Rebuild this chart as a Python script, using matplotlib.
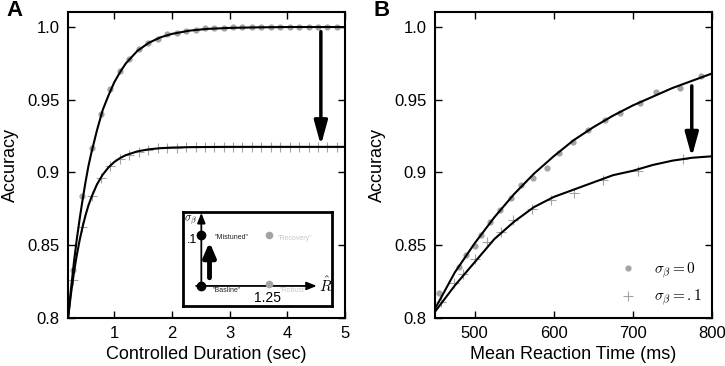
import matplotlib
matplotlib.use('Agg')
import matplotlib.pyplot as plt

plt.rcParams['font.family'] = ['Liberation Sans', 'DejaVu Sans']
plt.rcParams['mathtext.fontset'] = 'cm'

# panel A: controlled duration (sec)
dur_x = [0.28, 0.44, 0.61, 0.77, 0.93, 1.10, 1.26, 1.42, 1.59, 1.75, 1.92, 2.08,
         2.24, 2.41, 2.57, 2.73, 2.90, 3.06, 3.22, 3.39, 3.55, 3.71, 3.88, 4.04,
         4.20, 4.37, 4.53, 4.69, 4.86]
dur_acc0 = [0.833, 0.884, 0.917, 0.940, 0.957, 0.970, 0.978, 0.985, 0.989, 0.992,
            0.995, 0.996, 0.997, 0.998, 0.999, 0.999, 0.9995, 1.0, 1.0, 1.0, 1.0,
            1.0, 1.0, 1.0, 1.0, 1.0, 1.0, 1.0, 1.0]
dur_acc1 = [0.826, 0.862, 0.884, 0.896, 0.904, 0.909, 0.912, 0.914, 0.9155, 0.9165,
            0.917, 0.917, 0.9175, 0.9175, 0.9175, 0.9175, 0.9175, 0.9175, 0.9175,
            0.9175, 0.9175, 0.9175, 0.9175, 0.9175, 0.9175, 0.9175, 0.9175, 0.9175, 0.9175]
fitA_x = [0.2, 0.25, 0.3, 0.35, 0.4, 0.45, 0.5, 0.55, 0.6, 0.7, 0.8, 0.9, 1.0, 1.1,
          1.2, 1.4, 1.6, 1.8, 2.0, 2.3, 2.6, 3.0, 3.5, 4.0, 5.0]
fitA_0 = [0.800, 0.820, 0.838, 0.854, 0.868, 0.881, 0.893, 0.904, 0.913, 0.929,
          0.943, 0.953, 0.962, 0.969, 0.975, 0.9836, 0.9892, 0.9929, 0.9953, 0.9975,
          0.9987, 0.9994, 0.9998, 1.0, 1.0]
fitA_1 = [0.800, 0.8166, 0.831, 0.843, 0.8534, 0.8624, 0.8702, 0.8770, 0.8825, 0.8917,
          0.8984, 0.9034, 0.9071, 0.9098, 0.9118, 0.9144, 0.9158, 0.9166, 0.917, 0.9173,
          0.9174, 0.9175, 0.9175, 0.9175, 0.9175]

# panel B: mean reaction time (ms)
rt_x0 = [455, 480, 489, 501, 508, 520, 532, 546, 559, 574, 592, 607, 624, 643,
         665, 684, 709, 729, 759, 786]
rt_acc0 = [0.817, 0.835, 0.843, 0.849, 0.857, 0.866, 0.874, 0.882, 0.891, 0.896,
           0.903, 0.913, 0.921, 0.929, 0.936, 0.941, 0.948, 0.955, 0.958, 0.966]
rt_x1 = [457, 474, 485, 500, 516, 533, 548, 572, 596, 626, 662, 706, 763]
rt_acc1 = [0.811, 0.824, 0.830, 0.840, 0.852, 0.859, 0.867, 0.875, 0.881, 0.886,
           0.895, 0.901, 0.909]
fitB_x = [450, 475, 500, 525, 550, 575, 600, 625, 650, 675, 700, 725, 750, 775, 800]
fitB_0 = [0.806, 0.831, 0.851, 0.869, 0.885, 0.899, 0.911, 0.922, 0.931, 0.939,
          0.946, 0.952, 0.958, 0.963, 0.968]
fitB_1 = [0.804, 0.822, 0.838, 0.854, 0.866, 0.876, 0.883, 0.888, 0.893, 0.898,
          0.901, 0.905, 0.908, 0.910, 0.911]

yticks = [0.8, 0.85, 0.9, 0.95, 1.0]
ylabels = ['0.8', '0.85', '0.9', '0.95', '1.0']
gray = '#a4a4a4'

fig = plt.figure(figsize=(7.25, 3.66), dpi=100)
axA = fig.add_axes([0.094, 0.1325, 0.382, 0.8345])
axB = fig.add_axes([0.600, 0.1325, 0.382, 0.8345])


def style(ax):
    for s in ax.spines.values():
        s.set_linewidth(1.5)
    ax.tick_params(direction='in', length=5, width=1, top=True, right=True,
                   labelsize=12, pad=6)
    ax.set_yticks(yticks)
    ax.set_yticklabels(ylabels)
    ax.set_ylim(0.8, 1.0103)
    ax.set_ylabel('Accuracy', fontsize=13, labelpad=6)


arrow_kw = dict(arrowstyle='-|>,head_length=0.8,head_width=0.22', lw=2.5,
                color='k', mutation_scale=18, shrinkA=0, shrinkB=0)

# ---- A
axA.plot(fitA_x, fitA_0, color='k', lw=1.5, zorder=3)
axA.plot(fitA_x, fitA_1, color='k', lw=1.5, zorder=3)
axA.plot(dur_x, dur_acc0, 'o', color=gray, ms=4.5, mec='none', zorder=2)
axA.plot(dur_x, dur_acc1, '+', color=gray, ms=7, mew=0.8, zorder=2)
axA.set_xlim(0.2, 5)
axA.set_xticks([1, 2, 3, 4, 5])
style(axA)
axA.set_xlabel('Controlled Duration (sec)', fontsize=13)
axA.annotate('', xy=(4.58, 0.9185), xytext=(4.58, 0.9968), arrowprops=arrow_kw)
fig.text(0.009, 0.955, 'A', fontsize=16, fontweight='bold')

# inset
ins = fig.add_axes([0.252, 0.164, 0.2055, 0.257])
ins.set_xlim(0, 1)
ins.set_ylim(0, 1)
ins.set_xticks([])
ins.set_yticks([])
for s in ins.spines.values():
    s.set_linewidth(2)
thin = dict(arrowstyle='-|>,head_length=0.5,head_width=0.2', lw=1.3, color='k',
            mutation_scale=12, shrinkA=0, shrinkB=0)
ins.annotate('', xy=(0.125, 0.99), xytext=(0.125, 0.21), arrowprops=thin)
ins.annotate('', xy=(0.90, 0.213), xytext=(0.09, 0.213), arrowprops=thin)
ins.annotate('', xy=(0.18, 0.68), xytext=(0.18, 0.30),
             arrowprops=dict(arrowstyle='-|>,head_length=0.7,head_width=0.3', lw=3.5,
                             color='k', mutation_scale=12, shrinkA=0, shrinkB=0))
ins.plot([0.125, 0.125], [0.213, 0.755], 'o', color='k', ms=6, zorder=4)
ins.plot([0.577, 0.577], [0.235, 0.755], 'o', color=gray, ms=5.5, mec='none', zorder=4)
ins.text(0.095, 0.90, r'$\sigma_\beta$', fontsize=8, va='center', ha='right')
ins.text(0.10, 0.70, '.1', fontsize=9, va='center', ha='right')
ins.text(0.215, 0.73, '"Mistuned"', fontsize=5, va='center', color='#222222')
ins.text(0.64, 0.72, '"Recovery"', fontsize=5, va='center', color='#c8c8c8')
ins.text(0.20, 0.16, '"Basline"', fontsize=5, va='center', color='#222222')
ins.text(0.65, 0.16, '"Robust"', fontsize=5, va='center', color='#c8c8c8')
ins.text(0.57, 0.09, '1.25', fontsize=10, va='center', ha='center')
ins.text(0.915, 0.22, r'$\hat{R}$', fontsize=11, va='center')

# ---- B
axB.plot(fitB_x, fitB_0, color='k', lw=1.5, zorder=3)
axB.plot(fitB_x, fitB_1, color='k', lw=1.5, zorder=3)
axB.plot(rt_x0, rt_acc0, 'o', color=gray, ms=4.5, mec='none', zorder=2,
         label=r'$\sigma_\beta = 0$')
axB.plot(rt_x1, rt_acc1, '+', color=gray, ms=7, mew=0.8, zorder=2,
         label=r'$\sigma_\beta = .1$')
axB.set_xlim(450, 800)
axB.set_xticks([500, 600, 700, 800])
style(axB)
axB.set_xlabel('Mean Reaction Time (ms)', fontsize=13)
axB.annotate('', xy=(774.5, 0.9105), xytext=(774.5, 0.9595), arrowprops=arrow_kw)
axB.legend(loc='lower right', frameon=False, fontsize=11, handletextpad=1.0,
           borderaxespad=0.2, handlelength=1.5)
fig.text(0.515, 0.955, 'B', fontsize=16, fontweight='bold')

fig.savefig('out.png', dpi=100)
